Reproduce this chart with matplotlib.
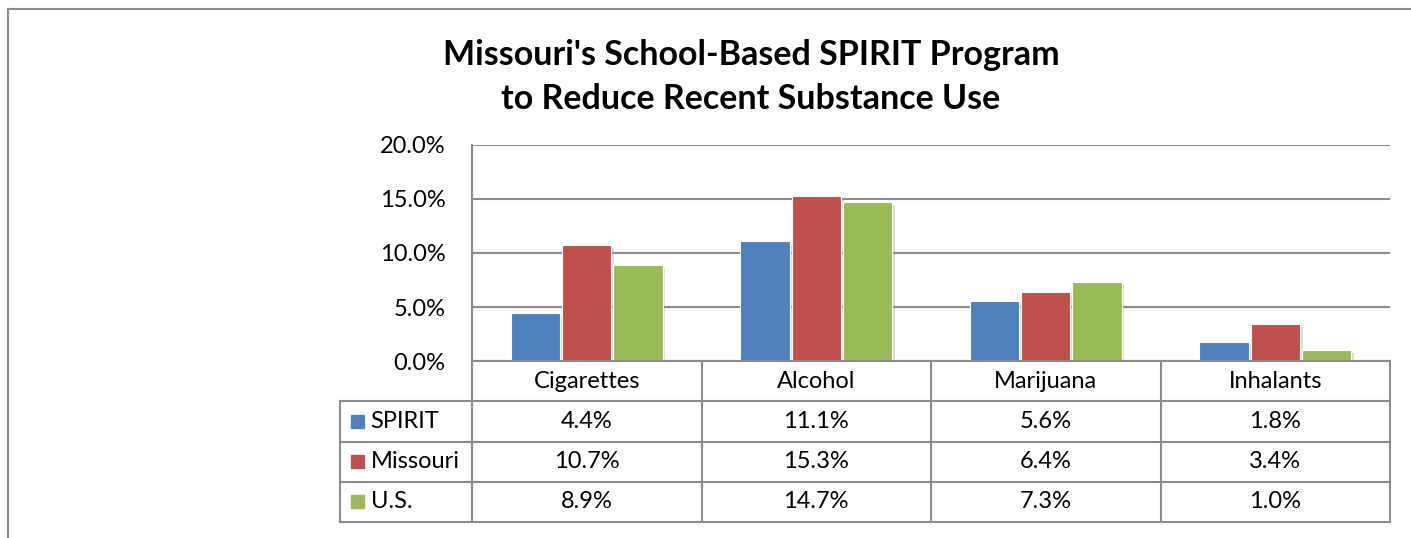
import matplotlib
matplotlib.use("Agg")
import matplotlib.pyplot as plt
import matplotlib.patheffects as pe
import numpy as np

# data
categories = ["Cigarettes", "Alcohol", "Marijuana", "Inhalants"]
series = ["SPIRIT", "Missouri", "U.S."]
spirit = [4.4, 11.1, 5.6, 1.8]
missouri = [10.7, 15.3, 6.4, 3.4]
us = [8.9, 14.7, 7.3, 1.0]
values = [spirit, missouri, us]
colors = ["#4F81BD", "#C0504D", "#9BBB59"]
yticks = [0, 5, 10, 15, 20]

plt.rcParams['font.family'] = ['Lato', 'DejaVu Sans']
grid_col = "#8c8c8c"
fs = 17

W, H = 1411, 538
fig = plt.figure(figsize=(W / 100, H / 100), dpi=100)

# outer chart border (left + top edges visible)
fig.add_artist(plt.Line2D([8 / W, 8 / W], [0, 1 - 9 / H], color=grid_col, lw=1.5))
fig.add_artist(plt.Line2D([8 / W, 1], [1 - 9 / H, 1 - 9 / H], color=grid_col, lw=1.5))

fig.text(751 / W, 1 - 77 / H, "Missouri's School-Based SPIRIT Program\nto Reduce Recent Substance Use",
         ha='center', va='center', fontsize=24.5, fontweight='bold', linespacing=1.45)

# plot area
left, right = 472 / W, 1390 / W
top, bottom = 1 - 145 / H, 1 - 361 / H
ax = fig.add_axes([left, bottom, right - left, top - bottom])
x = np.arange(len(categories))
bw = 0.215
for i, (vals, c) in enumerate(zip(values, colors)):
    bars = ax.bar(x + (i - 1) * (bw + 0.008), vals, width=bw, color=c, edgecolor='white',
                  linewidth=0.8, zorder=3)
    for b in bars:
        b.set_path_effects([pe.SimplePatchShadow(offset=(2, -2), shadow_rgbFace='#999999', alpha=0.35),
                            pe.Normal()])
ax.set_xlim(-0.5, len(categories) - 0.5)
ax.set_ylim(0, 20)
ax.set_yticks(yticks)
ax.set_yticklabels([f"{t:.1f}%" for t in yticks], fontsize=fs)
ax.set_xticks([])
ax.tick_params(axis='y', length=0, pad=19)
ax.yaxis.grid(True, color=grid_col, lw=1.5, zorder=0)
for s in ['top', 'right', 'bottom']:
    ax.spines[s].set_visible(False)
ax.spines['left'].set_color(grid_col)
ax.spines['left'].set_linewidth(1.5)

# data table below the plot
leg_w = 132 / 229.5
tl = 340 / W
tb = 1 - 522 / H
tax = fig.add_axes([tl, tb, right - tl, bottom - tb])
tax.set_xlim(-0.5 - leg_w, len(categories) - 0.5)
tax.set_ylim(len(series) + 1, 0)
tax.axis('off')
x0, x1 = -0.5 - leg_w, len(categories) - 0.5
kw = dict(color=grid_col, lw=1.5, clip_on=False)
tax.plot([-0.5, x1], [0, 0], **kw)
for r in range(1, len(series) + 2):
    tax.plot([x0, x1], [r, r], **kw)
for k in range(len(categories) + 1):
    tax.plot([k - 0.5, k - 0.5], [0, len(series) + 1], **kw)
tax.plot([x0, x0], [1, len(series) + 1], **kw)

for j, cat in enumerate(categories):
    tax.text(j, 0.5, cat, ha='center', va='center', fontsize=fs)
for i, (name, vals, c) in enumerate(zip(series, values, colors)):
    yc = i + 1.5
    tax.add_patch(plt.Rectangle((x0 + 0.048, yc - 0.16), 0.057, 0.32, color=c, clip_on=False))
    tax.text(x0 + 0.133, yc, name, ha='left', va='center', fontsize=fs)
    for j, v in enumerate(vals):
        tax.text(j, yc, f"{v:.1f}%", ha='center', va='center', fontsize=fs)

fig.savefig("out.png", dpi=100)
